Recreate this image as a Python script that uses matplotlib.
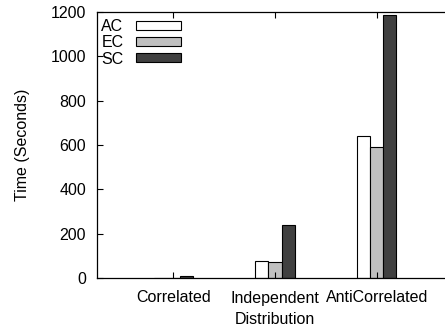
import numpy as np
import matplotlib.pyplot as plt
from matplotlib.transforms import IdentityTransform

plt.rcParams['font.family'] = ['Liberation Sans', 'DejaVu Sans']

# data
categories = ["Correlated", "Independent", "AntiCorrelated"]
series = ["AC", "EC", "SC"]
ac_time = [2, 78, 640]
ec_time = [2, 72, 590]
sc_time = [9, 238, 1186]
y_ticks = [0, 200, 400, 600, 800, 1000, 1200]

colors = ["white", "#c0c0c0", "#404040"]
fs = 11.5

fig = plt.figure(figsize=(4.45, 3.31), dpi=100)
# axes in figure fraction; right border sits just past the image edge
ax = fig.add_axes([97 / 445, 1 - 278 / 331, 356 / 445, 266 / 331])

x = np.arange(len(categories))
w = 0.128
for k, (name, vals) in enumerate(zip(series, [ac_time, ec_time, sc_time])):
    ax.bar(x + (k - 1) * w, vals, w, color=colors[k], edgecolor="black",
           linewidth=0.8, label=name)

ax.set_xlim(-0.75, 2.75)
ax.set_ylim(0, 1200)
ax.set_xticks(x)
ax.set_xticklabels(categories, fontsize=fs)
ax.set_yticks(y_ticks)
ax.set_yticklabels([str(v) for v in y_ticks], fontsize=fs)
ax.tick_params(axis="y", direction="in", length=4, width=0.8, right=True, pad=8)
ax.tick_params(axis="x", direction="in", length=4, width=0.8, top=True, pad=9)
for s in ax.spines.values():
    s.set_linewidth(0.9)

ax.set_xlabel("Distribution", fontsize=fs, labelpad=5)
ax.set_ylabel("Time (Seconds)", fontsize=fs, labelpad=15)

# legend placed in pixel coordinates (origin bottom-left)
ax.legend(loc="upper right", bbox_to_anchor=(181, 331 - 19),
          bbox_transform=IdentityTransform(),
          frameon=False, markerfirst=False, fontsize=fs, handlelength=2.8,
          handleheight=0.5, labelspacing=0.08, handletextpad=0.8, borderpad=0,
          borderaxespad=0)

fig.savefig("out.png", dpi=100)
